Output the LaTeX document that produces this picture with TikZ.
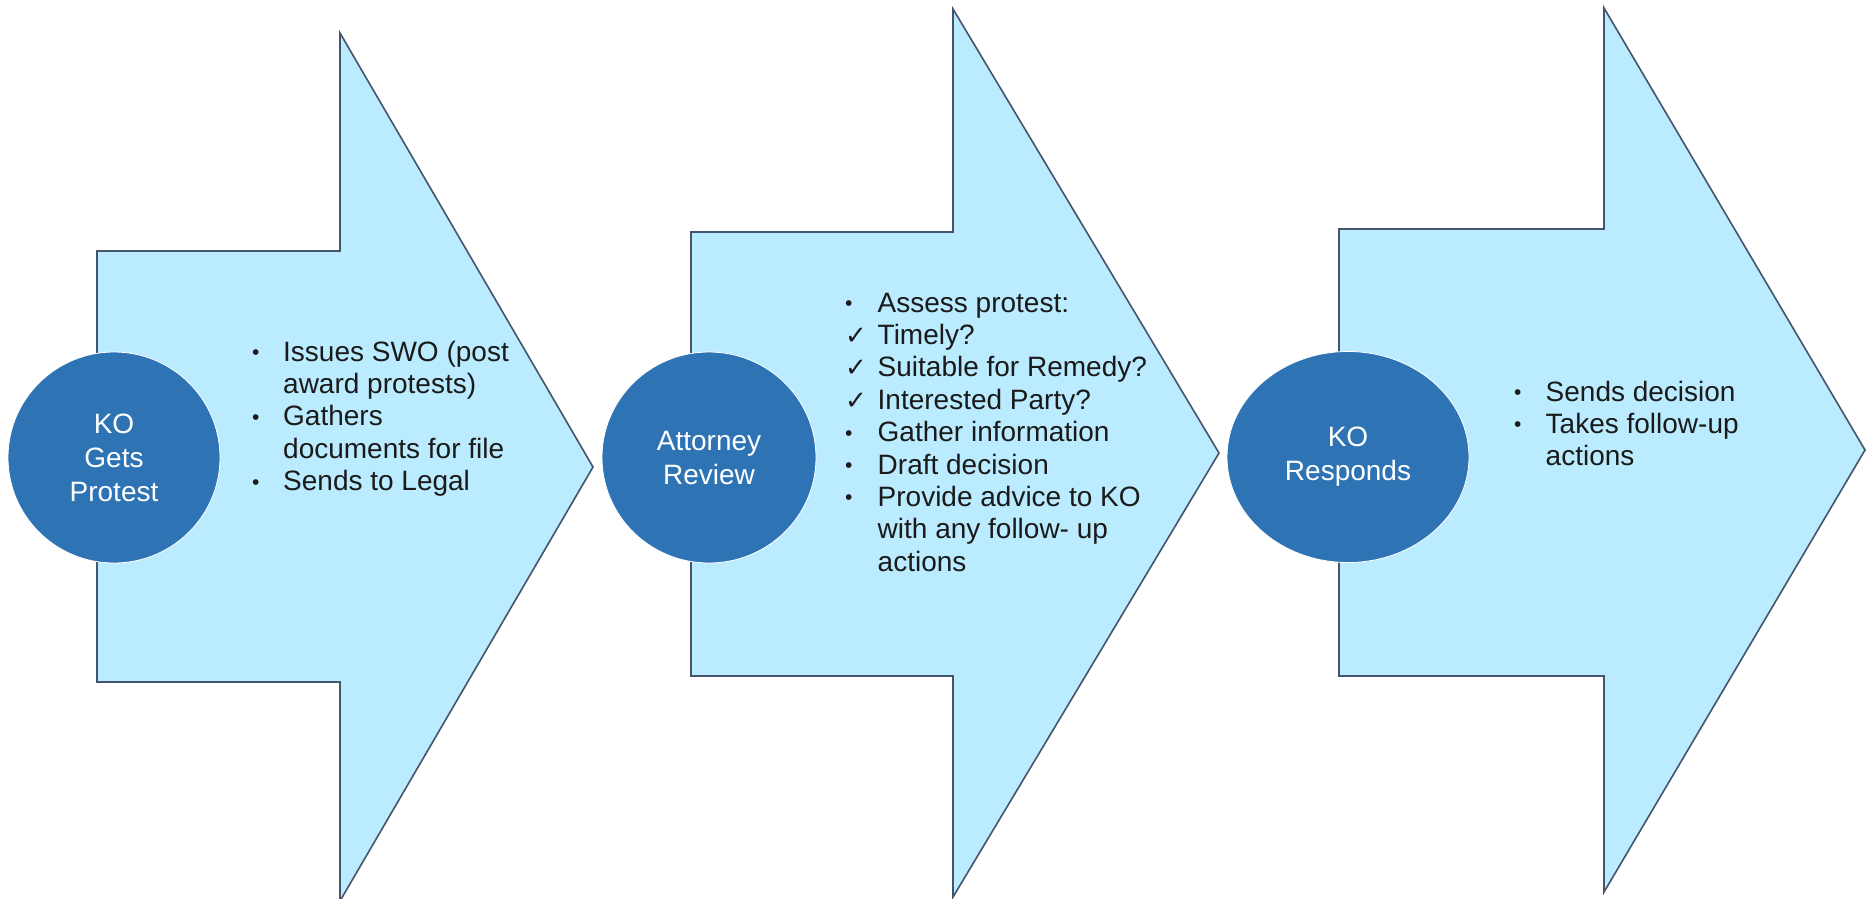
\documentclass[tikz,border=0pt]{standalone}
\usepackage{fontspec}
\setmainfont{Liberation Sans}
\newfontfamily\symfont{DejaVu Sans}
\usetikzlibrary{shapes.geometric}
\definecolor{arrowfill}{HTML}{BBEBFE}
\definecolor{arrowline}{HTML}{44546A}
\definecolor{circfill}{HTML}{2E74B5}
\definecolor{txt}{HTML}{1A1A1A}
\newcommand{\bul}{\raisebox{1.5pt}{\fontsize{21}{21}\selectfont •}}
\newcommand{\chk}{{\symfont\fontsize{26}{26}\selectfont ✓}}
\tikzset{
  bigarrow/.style={fill=arrowfill, draw=arrowline, line width=1.6pt, line join=miter},
  stepcirc/.style={ellipse, fill=circfill, draw=white, line width=0.8pt, text=white,
    align=center, inner sep=0pt, font=\fontsize{28}{34}\selectfont},
  listtext/.style={anchor=base west, inner sep=0pt, text=txt, align=left,
    font=\fontsize{28}{32.4}\selectfont}
}
\begin{document}
\begin{tikzpicture}[x=1pt,y=-1pt]
\useasboundingbox (0,0) rectangle (1866,898);
\fill[white] (0,0) rectangle (1866,898);
% arrows
\draw[bigarrow] (97,251) -- (340,251) -- (340,33) -- (593,467) -- (340,901) -- (340,682) -- (97,682) -- cycle;
\draw[bigarrow] (691,232) -- (953,232) -- (953,9) -- (1219,453) -- (953,897) -- (953,676) -- (691,676) -- cycle;
\draw[bigarrow] (1339,229) -- (1604,229) -- (1604,8) -- (1865,450) -- (1604,892) -- (1604,676) -- (1339,676) -- cycle;
% circles
\node[stepcirc, minimum width=212pt, minimum height=211pt] (c1) at (114,457.5) {KO\\Gets\\Protest};
\node[stepcirc, minimum width=214pt, minimum height=211pt] (c2) at (709,457.5) {Attorney\\Review};
\node[stepcirc, minimum width=242pt, minimum height=211pt] (c3) at (1348,457) {KO\\Responds};
% lists
\node[listtext] (l1) at (252,361) {\begin{tabular}[t]{@{}p{31pt}@{}l@{}}
\bul & Issues SWO (post\\
 & award protests)\\
\bul & Gathers\\
 & documents for file\\
\bul & Sends to Legal
\end{tabular}};
\node[listtext] (l2) at (845,312) {\begin{tabular}[t]{@{}p{32.5pt}@{}l@{}}
\bul & Assess protest:\\
\chk & Timely?\\
\chk & Suitable for Remedy?\\
\chk & Interested Party?\\
\bul & Gather information\\
\bul & Draft decision\\
\bul & Provide advice to KO\\
 & with any follow- up\\
 & actions
\end{tabular}};
\node[listtext] (l3) at (1514,401) {\begin{tabular}[t]{@{}p{31.5pt}@{}l@{}}
\bul & Sends decision\\
\bul & Takes follow-up\\
 & actions
\end{tabular}};
\end{tikzpicture}
\end{document}
